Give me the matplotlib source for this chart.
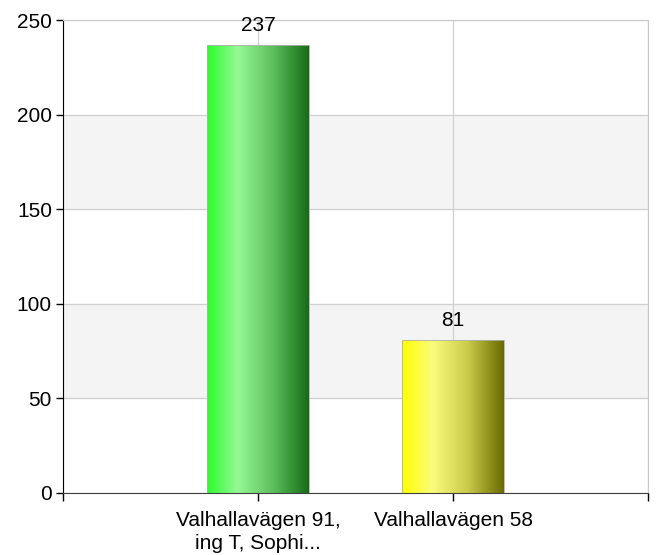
import matplotlib.pyplot as plt
import numpy as np
from matplotlib.colors import LinearSegmentedColormap

W, H = 657, 555
DPI = 100

categories = ["Valhallavägen 91,\ning T, Sophi...", "Valhallavägen 58"]
values = [237, 81]
gradients = [
    ["#2cfc2c", "#95f995", "#5cbf5c", "#166c16"],
    ["#ffff00", "#fbfb7c", "#c9c94a", "#6a6a00"],
]
y_ticks = [0, 50, 100, 150, 200, 250]

plt.rcParams["font.family"] = ["Liberation Sans", "DejaVu Sans"]
FS = 15

fig = plt.figure(figsize=(W / DPI, H / DPI), dpi=DPI)
ax = fig.add_axes([63 / W, (H - 493) / H, (648 - 63) / W, (493 - 20) / H])

x = np.arange(1, len(categories) + 1)
ax.set_xlim(0, 3)
ax.set_ylim(0, 250)

# alternating bands
for i, lo in enumerate(y_ticks[:-1]):
    if i % 2 == 1:
        ax.axhspan(lo, lo + 50, color="#f4f4f4", zorder=0)

ax.grid(True, color="#d0d0d0", linewidth=0.9, zorder=1)
ax.set_axisbelow(True)

bars = ax.bar(x, values, width=0.52, color="none", edgecolor="#b0b0b0",
              linewidth=0.6, zorder=3)
for bar, stops in zip(bars, gradients):
    cmap = LinearSegmentedColormap.from_list(
        "g", list(zip([0, 0.3, 0.65, 1], stops)))
    x0, y0 = bar.get_x(), bar.get_y()
    img = ax.imshow(np.linspace(0, 1, 256).reshape(1, -1), cmap=cmap,
                    aspect="auto", extent=[x0, x0 + bar.get_width(), y0,
                                           y0 + bar.get_height()],
                    zorder=2)
    img.set_clip_path(bar)
    ax.annotate(str(bar.get_height()), (x0 + bar.get_width() / 2,
                                        bar.get_height()),
                xytext=(0, 7), textcoords="offset points", ha="center",
                va="bottom", fontsize=FS)

ax.set_xticks([0, 1, 2, 3])
ax.set_xticklabels(["", categories[0], categories[1], ""], fontsize=FS,
                   linespacing=1.25)
ax.set_yticks(y_ticks)
ax.tick_params(axis="y", labelsize=FS, length=5, width=1, pad=3)
ax.tick_params(axis="x", length=6, width=1, pad=7)

ax.spines["top"].set_color("#c8c8c8")
ax.spines["right"].set_color("#c8c8c8")
ax.spines["left"].set_color("black")
ax.spines["bottom"].set_color("#404040")

fig.savefig("out.png", dpi=DPI)
